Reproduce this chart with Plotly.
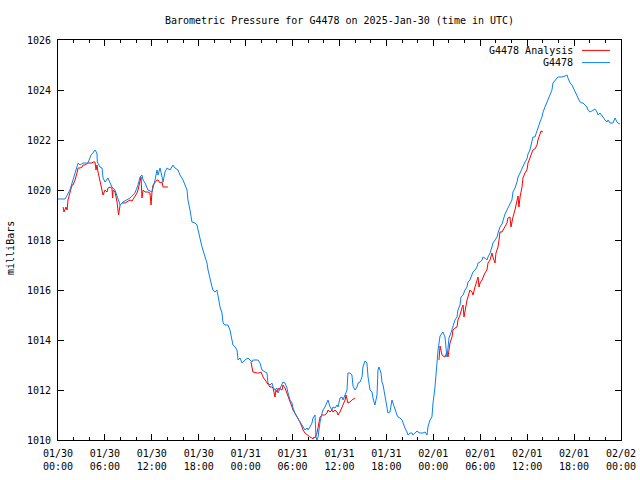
import pandas as pd
import plotly.graph_objects as go

BASE = "2025-01-30 00:00"

# G4478 observations: hours since 2025-01-30 00:00 UTC, pressure in mb
obs_hours = [0, 0.90, 1.53, 1.92, 2.43, 2.57, 2.82, 3.20, 3.84, 4.22, 4.47, 4.73, 4.98, 5.03, 5.37, 5.63,
             5.76, 6.02, 6.39, 6.65, 6.90, 7.29, 7.55, 7.68, 7.94, 8.31, 8.82, 9.21, 9.84, 10.23, 10.49,
             10.74, 10.88, 11.13, 11.51, 12.02, 12.41, 12.66, 12.80, 13.05, 13.31, 13.43, 13.68, 13.94,
             14.33, 14.70, 14.96, 15.35, 15.60, 15.99, 16.50, 16.62, 16.88, 17.13, 17.52, 17.78, 17.91,
             18.17, 18.42, 18.54, 18.80, 19.05, 19.19, 19.44, 19.70, 19.82, 20.07, 20.33, 20.46, 20.72,
             20.97, 21.11, 21.36, 21.74, 21.99, 22.25, 22.38, 22.64, 22.89, 23.03, 23.28, 23.54, 23.91,
             24.30, 24.56, 24.81, 24.93, 25.58, 25.83, 26.09, 26.48, 26.73, 26.85, 27.11, 27.36, 27.50,
             27.75, 28.01, 28.14, 28.40, 28.65, 28.77, 29.03, 29.28, 29.42, 29.67, 29.93, 30.05, 30.30,
             30.56, 30.69, 30.95, 31.20, 31.34, 31.59, 31.85, 31.97, 32.22, 32.48, 32.61, 32.87, 32.99,
             33.12, 33.26, 33.51, 33.77, 33.89, 34.14, 34.40, 34.53, 34.79, 35.04, 35.16, 35.42, 35.69,
             35.81, 36.06, 36.32, 36.45, 36.71, 36.96, 37.08, 37.34, 37.59, 37.73, 37.98, 38.24, 38.37,
             38.63, 38.88, 39.00, 39.26, 39.51, 39.65, 39.90, 40.16, 40.28, 40.53, 40.80, 40.92, 41.06,
             41.31, 41.43, 41.57, 41.82, 42.08, 42.20, 42.45, 42.71, 42.84, 43.10, 43.35, 43.49, 43.74,
             44.00, 44.12, 44.37, 44.63, 44.76, 45.02, 45.27, 45.39, 45.65, 45.92, 46.04, 46.29, 46.68,
             46.94, 47.19, 47.31, 47.57, 47.82, 47.96, 48.21, 48.47, 48.60, 48.86, 49.11, 49.23, 49.49,
             49.62, 49.74, 49.88, 50.00, 50.25, 50.51, 50.76, 51.03, 51.15, 51.41, 51.54, 51.80, 52.05,
             52.31, 52.43, 52.68, 52.94, 53.07, 53.33, 53.58, 53.72, 53.97, 54.23, 54.35, 54.60, 54.86,
             54.99, 55.25, 55.50, 55.62, 55.89, 56.15, 56.27, 56.52, 56.78, 56.91, 57.17, 57.54, 58.05,
             58.19, 58.44, 58.70, 58.83, 59.09, 59.34, 59.46, 59.72, 59.97, 60.11, 60.36, 60.62, 60.74,
             60.99, 61.26, 61.38, 61.64, 61.89, 62.03, 62.28, 62.54, 62.66, 62.91, 63.17, 63.30, 63.56,
             63.81, 63.95, 64.46, 64.83, 65.09, 65.22, 65.48, 65.73, 65.85, 66.12, 66.38, 66.50, 66.75,
             67.01, 67.14, 67.40, 67.65, 67.77, 68.03, 68.28, 68.42, 68.67, 68.93, 69.06, 69.32, 69.57,
             69.69, 69.95, 70.20, 70.34, 70.59, 70.97, 71.24, 71.49, 71.61, 71.87]
obs_mb = [1019.64, 1019.64, 1020.0, 1020.4, 1021.0, 1021.08, 1021.0, 1021.08, 1021.08, 1021.4, 1021.48,
          1021.6, 1021.48, 1021.12, 1020.92, 1020.88, 1020.48, 1020.32, 1020.48, 1020.28, 1020.12, 1020.0,
          1019.72, 1019.6, 1019.4, 1019.52, 1019.6, 1019.68, 1019.88, 1020.2, 1020.52, 1020.6, 1020.4,
          1020.28, 1020.0, 1019.92, 1020.4, 1020.8, 1020.6, 1020.88, 1020.52, 1020.32, 1020.72, 1020.88,
          1020.8, 1021.0, 1020.88, 1020.8, 1020.6, 1020.4, 1020.0, 1019.6, 1019.2, 1018.72, 1018.68,
          1018.6, 1018.4, 1018.0, 1017.72, 1017.6, 1017.32, 1017.08, 1016.8, 1016.4, 1016.12, 1016.0,
          1015.92, 1016.0, 1015.72, 1015.32, 1015.08, 1014.68, 1014.6, 1014.6, 1014.4, 1014.0, 1013.8,
          1013.72, 1013.6, 1013.2, 1013.28, 1013.08, 1013.2, 1013.28, 1013.2, 1013.12, 1013.2, 1013.2,
          1013.08, 1012.8, 1012.72, 1012.68, 1012.28, 1012.2, 1012.28, 1012.12, 1012.0, 1012.08, 1011.88,
          1012.08, 1012.2, 1012.32, 1012.28, 1012.08, 1011.88, 1011.6, 1011.48, 1011.28, 1011.08, 1010.92,
          1010.88, 1010.72, 1010.6, 1010.52, 1010.4, 1010.48, 1010.4, 1010.52, 1010.68, 1010.88, 1011.0,
          1010.12, 1010.0, 1010.12, 1010.72, 1011.08, 1011.2, 1011.32, 1011.52, 1011.6, 1011.32, 1011.2,
          1011.32, 1011.28, 1011.4, 1011.32, 1011.68, 1011.72, 1011.6, 1011.8, 1012.0, 1012.68, 1012.68,
          1012.6, 1012.16, 1012.0, 1012.12, 1012.28, 1012.32, 1012.52, 1012.92, 1013.16, 1013.08, 1012.52,
          1012.0, 1011.92, 1011.68, 1011.4, 1011.8, 1012.8, 1012.92, 1012.68, 1012.32, 1012.2, 1011.68,
          1011.2, 1011.08, 1011.12, 1011.6, 1011.48, 1011.2, 1011.0, 1010.92, 1010.88, 1010.8, 1010.68,
          1010.48, 1010.32, 1010.2, 1010.28, 1010.28, 1010.2, 1010.28, 1010.36, 1010.32, 1010.28, 1010.28,
          1010.32, 1010.2, 1010.52, 1010.8, 1010.92, 1011.48, 1012.12, 1013.08, 1013.6, 1014.16, 1014.28,
          1014.32, 1014.12, 1013.6, 1013.32, 1013.68, 1014.08, 1014.28, 1014.52, 1014.8, 1014.92, 1015.2,
          1015.4, 1015.72, 1015.8, 1016.0, 1016.12, 1016.32, 1016.4, 1016.68, 1016.72, 1016.8, 1016.92,
          1017.08, 1017.12, 1017.2, 1017.32, 1017.28, 1017.2, 1017.32, 1017.48, 1017.72, 1017.88, 1018.0,
          1018.12, 1018.28, 1018.52, 1018.64, 1018.8, 1019.04, 1019.28, 1019.6, 1019.92, 1020.08, 1020.32,
          1020.52, 1020.68, 1020.88, 1020.92, 1021.12, 1021.24, 1021.44, 1021.6, 1022.0, 1022.12, 1022.12,
          1022.4, 1022.52, 1022.72, 1022.92, 1023.12, 1023.32, 1023.52, 1023.68, 1023.88, 1024.0, 1024.28,
          1024.4, 1024.48, 1024.52, 1024.52, 1024.56, 1024.6, 1024.48, 1024.28, 1024.2, 1024.12, 1023.92,
          1023.72, 1023.68, 1023.52, 1023.48, 1023.48, 1023.4, 1023.32, 1023.2, 1023.12, 1023.16, 1023.2,
          1023.24, 1023.12, 1023.0, 1023.08, 1023.0, 1022.92, 1022.8, 1022.72, 1022.8, 1022.68, 1022.68,
          1022.88, 1022.72, 1022.68, 1022.64]

# G4478 Analysis: three separate runs
ana1_hours = [0.65, 0.77, 1.02, 1.16, 1.28, 1.53, 1.79, 1.92, 2.18, 2.43, 2.57, 2.82, 3.08, 3.20, 3.45,
              3.84, 4.35, 4.47, 4.73, 4.86, 4.98, 5.12, 5.37, 5.63, 5.76, 6.02, 6.27, 6.39, 6.65, 6.90,
              6.98, 7.04, 7.29, 7.55, 7.68, 7.74, 7.94, 8.19, 8.57, 8.82, 9.21, 9.47, 9.84, 10.10, 10.23,
              10.49, 10.62, 10.74, 10.88, 11.13, 11.51, 11.76, 11.90, 12.02, 12.15, 12.66, 12.80, 13.05,
              13.31, 13.43, 13.68, 14.07]
ana1_mb = [1019.32, 1019.12, 1019.32, 1019.2, 1019.6, 1019.88, 1020.2, 1020.2, 1020.4, 1020.68, 1020.88,
           1020.88, 1020.92, 1021.0, 1021.0, 1021.08, 1021.08, 1021.12, 1021.12, 1020.8, 1021.0, 1020.72,
           1020.4, 1020.08, 1019.8, 1020.0, 1019.92, 1020.08, 1020.12, 1020.08, 1019.68, 1020.0, 1019.92,
           1019.52, 1019.2, 1019.0, 1019.4, 1019.48, 1019.48, 1019.52, 1019.6, 1019.56, 1019.72, 1019.88,
           1020.0, 1020.4, 1020.52, 1019.68, 1020.0, 1019.92, 1019.92, 1019.88, 1019.4, 1019.92, 1020.2,
           1020.4, 1020.4, 1020.28, 1020.32, 1020.12, 1020.12, 1020.12]
ana2_hours = [24.68, 24.81, 24.93, 25.46, 25.71, 25.97, 26.09, 26.22, 26.48, 26.73, 26.85, 27.11, 27.36,
              27.50, 27.75, 27.87, 28.01, 28.26, 28.65, 28.77, 29.03, 29.28, 29.42, 29.67, 29.93, 30.05,
              30.30, 30.56, 30.95, 31.20, 31.34, 31.59, 31.85, 32.22, 32.48, 32.61, 32.73, 32.87, 33.12,
              33.26, 33.51, 33.77, 34.14, 34.40, 34.53, 34.79, 35.04, 35.16, 35.42, 35.69, 35.81, 36.06,
              36.32, 36.45, 36.71, 36.83, 36.96, 37.08, 37.34, 37.59, 37.98]
ana2_mb = [1013.12, 1012.8, 1012.72, 1012.68, 1012.68, 1012.72, 1012.6, 1012.52, 1012.4, 1012.28, 1012.2,
           1012.12, 1012.12, 1012.08, 1011.72, 1012.0, 1011.92, 1012.08, 1012.0, 1012.2, 1012.08, 1011.88,
           1011.8, 1011.6, 1011.32, 1011.2, 1011.08, 1010.92, 1010.72, 1010.52, 1010.4, 1010.28, 1010.2,
           1010.12, 1010.08, 1010.04, 1010.12, 1010.08, 1010.28, 1010.52, 1010.92, 1011.0, 1011.0, 1011.08,
           1011.2, 1011.12, 1011.2, 1011.12, 1011.2, 1011.12, 1011.0, 1011.12, 1011.32, 1011.4, 1011.6,
           1011.8, 1011.6, 1011.48, 1011.52, 1011.6, 1011.68]
ana3_hours = [48.72, 48.86, 49.11, 49.23, 49.49, 49.74, 49.88, 50.00, 50.13, 50.39, 50.51, 50.76, 51.03,
              51.15, 51.41, 51.66, 51.80, 51.92, 52.05, 52.31, 52.43, 52.68, 52.94, 53.07, 53.33, 53.58,
              53.72, 53.84, 53.97, 54.23, 54.35, 54.60, 54.86, 54.99, 55.25, 55.50, 55.62, 55.89, 56.01,
              56.27, 56.40, 56.52, 56.78, 56.91, 57.17, 57.42, 57.54, 57.80, 57.93, 58.05, 58.19, 58.44,
              58.70, 58.83, 58.95, 59.09, 59.34, 59.46, 59.72, 59.97, 60.11, 60.36, 60.62, 60.74, 60.99,
              61.26, 61.38, 61.64, 61.77, 62.03]
ana3_mb = [1013.2, 1013.76, 1013.4, 1013.36, 1013.32, 1013.52, 1013.32, 1013.68, 1013.88, 1014.12, 1014.4,
           1014.48, 1014.52, 1014.8, 1015.0, 1015.28, 1015.4, 1014.92, 1015.2, 1015.6, 1015.72, 1016.0,
           1015.92, 1015.8, 1016.12, 1016.4, 1016.52, 1016.12, 1016.28, 1016.4, 1016.52, 1016.68, 1016.8,
           1017.08, 1017.2, 1017.48, 1017.32, 1017.08, 1017.48, 1017.72, 1018.0, 1018.32, 1018.32, 1018.4,
           1018.52, 1018.68, 1018.88, 1018.92, 1018.52, 1018.72, 1018.92, 1019.2, 1019.6, 1019.76, 1019.32,
           1019.72, 1020.12, 1020.48, 1020.68, 1020.8, 1021.08, 1021.32, 1021.52, 1021.6, 1021.64, 1021.8,
           1022.0, 1022.28, 1022.36, 1022.32]

tick_hours = [0, 6, 12, 18, 24, 30, 36, 42, 48, 54, 60, 66, 72]
tick_labels = ["01/30<br>00:00", "01/30<br>06:00", "01/30<br>12:00", "01/30<br>18:00",
               "01/31<br>00:00", "01/31<br>06:00", "01/31<br>12:00", "01/31<br>18:00",
               "02/01<br>00:00", "02/01<br>06:00", "02/01<br>12:00", "02/01<br>18:00",
               "02/02<br>00:00"]

base = pd.Timestamp(BASE)


def to_time(hours):
    return [(base + pd.Timedelta(hours=h)).strftime("%Y-%m-%d %H:%M:%S") for h in hours]


ana_x = to_time(ana1_hours) + [None] + to_time(ana2_hours) + [None] + to_time(ana3_hours)
ana_y = ana1_mb + [None] + ana2_mb + [None] + ana3_mb

FONT = "DejaVu Sans Mono"
RED = "#ff0000"
BLUE = "#0a80f5"

fig = go.Figure()
fig.add_trace(go.Scatter(x=ana_x, y=ana_y, mode="lines", name="G4478 Analysis",
                         line=dict(color=RED, width=1), connectgaps=False))
fig.add_trace(go.Scatter(x=to_time(obs_hours), y=obs_mb, mode="lines", name="G4478",
                         line=dict(color=BLUE, width=1)))

fig.update_layout(
    width=640, height=480,
    margin=dict(l=58, r=19, t=40, b=40),
    paper_bgcolor="white", plot_bgcolor="white",
    showlegend=False,
    font=dict(family=FONT, size=10, color="black"),
    title=dict(text="Barometric Pressure for G4478 on 2025-Jan-30 (time in UTC)",
               x=0.5305, xanchor="center", y=0.9583, yanchor="middle", automargin=False,
               font=dict(family=FONT, size=10, color="black")),
)
fig.update_xaxes(
    range=[to_time([0])[0], to_time([72])[0]],
    tickmode="array", tickvals=to_time(tick_hours), ticktext=tick_labels,
    ticks="inside", ticklen=6, tickcolor="black", tickwidth=1, ticklabelstandoff=4,
    ticklabeloverflow="allow",
    minor=dict(ticks="inside", ticklen=3, dtick=2 * 3600 * 1000, tickcolor="black", showgrid=False),
    showline=True, linecolor="black", linewidth=1, mirror="ticks",
    showgrid=False, zeroline=False, automargin=False,
    tickfont=dict(family=FONT, size=10, color="black"),
)
fig.update_yaxes(
    range=[1010, 1026], dtick=2, tick0=1010,
    ticks="inside", ticklen=6, tickcolor="black", tickwidth=1, ticklabelstandoff=4,
    showline=True, linecolor="black", linewidth=1, mirror="ticks",
    showgrid=False, zeroline=False, automargin=False,
    tickfont=dict(family=FONT, size=10, color="black"),
)

fig.add_annotation(xref="paper", yref="paper", x=-0.0853, y=0.48, text="milliBars", showarrow=False,
                   textangle=-90, xanchor="center", yanchor="middle",
                   font=dict(family=FONT, size=10, color="black"))

# gnuplot-style key: text right-aligned, sample line to its right
legend_items = [("G4478 Analysis", RED, 0.974), ("G4478", BLUE, 0.9435)]
for label, color, yp in legend_items:
    fig.add_annotation(xref="paper", yref="paper", x=0.919, y=yp, text=label, showarrow=False,
                       xanchor="right", yanchor="middle", font=dict(family=FONT, size=10, color="black"))
    fig.add_shape(type="line", xref="paper", yref="paper", x0=0.9307, x1=0.9805, y0=yp, y1=yp,
                  line=dict(color=color, width=1))

# remove the browser's default 8px body margin so the 640x480 figure fills the window exactly
fig.write_html("out.html", config={"displayModeBar": False},
               post_script="document.body.style.margin='0';document.body.style.overflow='hidden';")
